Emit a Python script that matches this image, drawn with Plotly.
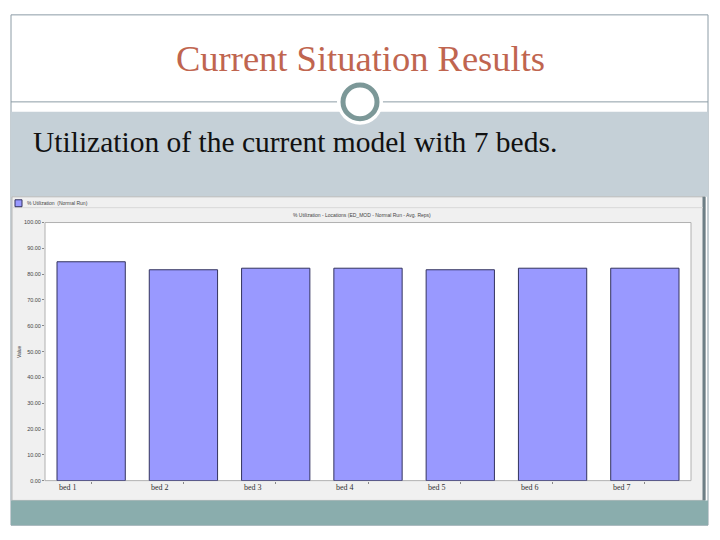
import plotly.graph_objects as go

categories = ["bed 1", "bed 2", "bed 3", "bed 4", "bed 5", "bed 6", "bed 7"]
utilization = [84.8, 81.7, 82.3, 82.3, 81.7, 82.3, 82.3]
y_ticks = [0, 10, 20, 30, 40, 50, 60, 70, 80, 90, 100]

W, H = 720, 540
def fx(p): return p / W
def fy(p): return 1 - p / H

fig = go.Figure()
fig.add_trace(go.Bar(
    x=categories, y=utilization, width=0.74,
    marker=dict(color="#9999FF", line=dict(color="#33335E", width=1)),
    showlegend=False, hoverinfo="x+y",
))

shapes = []
# slide border
shapes.append(dict(type="rect", xref="paper", yref="paper", x0=fx(11), x1=fx(708), y0=fy(528), y1=fy(12),
                   line=dict(color="#8C9CA6", width=1), fillcolor="white", layer="below"))
# gray-blue band
shapes.append(dict(type="rect", xref="paper", yref="paper", x0=fx(11), x1=fx(708), y0=fy(196), y1=fy(110),
                   line=dict(width=0), fillcolor="#C5D0D7", layer="below"))
# horizontal rule
shapes.append(dict(type="line", xref="paper", yref="paper", x0=fx(11), x1=fx(708), y0=fy(100), y1=fy(100),
                   line=dict(color="#8C9CA6", width=1), layer="below"))
# chart panel
shapes.append(dict(type="rect", xref="paper", yref="paper", x0=fx(12), x1=fx(705), y0=fy(503), y1=fy(196),
                   line=dict(color="#B8B8B8", width=1), fillcolor="#F0F0F0", layer="below"))
shapes.append(dict(type="line", xref="paper", yref="paper", x0=fx(704), x1=fx(704), y0=fy(503), y1=fy(196),
                   line=dict(color="#6E7F86", width=3), layer="below"))
shapes.append(dict(type="line", xref="paper", yref="paper", x0=fx(13), x1=fx(703), y0=fy(207), y1=fy(207),
                   line=dict(color="#D8D8D8", width=1), layer="below"))
# plot area white
shapes.append(dict(type="rect", xref="paper", yref="paper", x0=fx(45), x1=fx(691), y0=fy(483), y1=fy(222),
                   line=dict(color="#B0B0B0", width=1), fillcolor="white", layer="below"))
# bottom teal band
shapes.append(dict(type="rect", xref="paper", yref="paper", x0=fx(11), x1=fx(708), y0=fy(528), y1=fy(503),
                   line=dict(width=0), fillcolor="#8AADAD", layer="below"))
# circle ornament
shapes.append(dict(type="circle", xref="paper", yref="paper", x0=fx(337), x1=fx(383), y0=fy(123), y1=fy(77),
                   line=dict(width=0), fillcolor="white", layer="below"))
shapes.append(dict(type="circle", xref="paper", yref="paper", x0=fx(343), x1=fx(377), y0=fy(117), y1=fy(83),
                   line=dict(color="#7C9898", width=5), fillcolor="white", layer="below"))
# legend swatch
shapes.append(dict(type="rect", xref="paper", yref="paper", x0=fx(15), x1=fx(22), y0=fy(206), y1=fy(199),
                   line=dict(color="#33335E", width=1), fillcolor="#9999FF", layer="above"))

annotations = [
    dict(text="Current Situation Results", xref="paper", yref="paper", x=fx(360), y=fy(56),
         xanchor="center", yanchor="middle", showarrow=False,
         font=dict(family="Liberation Serif", size=36.5, color="#C0654F")),
    dict(text="Utilization of the current model with 7 beds.", xref="paper", yref="paper", x=fx(31), y=fy(141),
         xanchor="left", yanchor="middle", showarrow=False,
         font=dict(family="Liberation Serif", size=29.5, color="#111111")),
    dict(text="% Utilization  (Normal Run)", xref="paper", yref="paper", x=fx(25), y=fy(202.5),
         xanchor="left", yanchor="middle", showarrow=False,
         font=dict(family="Liberation Sans", size=5, color="#444444")),
    dict(text="% Utilization - Locations (ED_MOD - Normal Run - Avg. Reps)", xref="paper", yref="paper",
         x=fx(362), y=fy(214), xanchor="center", yanchor="middle", showarrow=False,
         font=dict(family="Liberation Sans", size=5, color="#444444")),
    dict(text="Value", xref="paper", yref="paper", x=fx(19), y=fy(353), textangle=-90,
         xanchor="center", yanchor="middle", showarrow=False,
         font=dict(family="Liberation Sans", size=5, color="#444444")),
]
for c in categories:
    annotations.append(dict(text=c, xref="x", yref="paper", x=c, y=fy(490), xshift=-34,
                            xanchor="left", yanchor="middle", showarrow=False,
                            font=dict(family="Liberation Serif", size=8, color="#333333")))

fig.update_layout(
    width=W, height=H, margin=dict(l=0, r=0, t=0, b=0),
    paper_bgcolor="white", plot_bgcolor="rgba(0,0,0,0)",
    shapes=shapes, annotations=annotations,
    xaxis=dict(domain=[fx(45), fx(691)], showticklabels=False, ticks="outside", ticklen=2,
               tickcolor="#888888", showgrid=False, zeroline=False, showline=False,
               range=[-0.5, 6.5]),
    yaxis=dict(domain=[fy(483), fy(222)], range=[0, 100], tickvals=y_ticks, tickformat=".2f",
               ticks="outside", ticklen=2, tickcolor="#888888", showgrid=False, zeroline=False,
               showline=False, tickfont=dict(family="Liberation Sans", size=5.5, color="#444444")),
    bargap=0.26,
)

fig.write_html("out.html", config={"displayModeBar": False},
               post_script="document.body.style.margin='0';document.body.style.overflow='hidden';")
